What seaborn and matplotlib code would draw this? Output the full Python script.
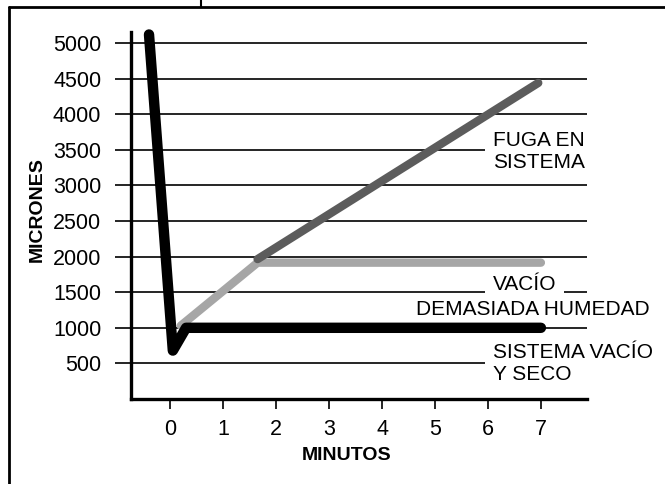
import matplotlib
matplotlib.use("Agg")
import matplotlib.pyplot as plt
from matplotlib.lines import Line2D
import seaborn as sns
import pandas as pd

# ---- data ----
seco_x = [-0.4, 0.05, 0.3, 7.0]
seco_y = [5120, 680, 1000, 1000]
humedad_x = [0.2, 1.65, 7.0]
humedad_y = [1030, 1915, 1915]
fuga_x = [1.65, 6.95]
fuga_y = [1965, 4440]
x_ticks = [0, 1, 2, 3, 4, 5, 6, 7]
y_ticks = [500, 1000, 1500, 2000, 2500, 3000, 3500, 4000, 4500, 5000]
x_label = "MINUTOS"
y_label = "MICRONES"
lbl_fuga = "FUGA EN\nSISTEMA"
lbl_vacio = "VACÍO"
lbl_humedad = "DEMASIADA HUMEDAD"
lbl_seco = "SISTEMA VACÍO\nY SECO"

sns.set_style("white")
plt.rcParams["font.family"] = ["Liberation Sans", "DejaVu Sans"]
plt.rcParams["text.color"] = "black"
plt.rcParams["xtick.color"] = "black"
plt.rcParams["ytick.color"] = "black"
plt.rcParams["axes.labelcolor"] = "black"

fig = plt.figure(figsize=(6.65, 4.84), dpi=100)
W, H = 665, 484
ax = fig.add_axes([131 / W, (H - 399) / H, (587 - 131) / W, (399 - 32) / H])

df_h = pd.DataFrame({"x": humedad_x, "y": humedad_y})
df_f = pd.DataFrame({"x": fuga_x, "y": fuga_y})
df_s = pd.DataFrame({"x": seco_x, "y": seco_y})

kw = dict(x="x", y="y", sort=False, estimator=None, ax=ax)
sns.lineplot(data=df_h, color="#a6a6a6", linewidth=6, zorder=3, **kw)
sns.lineplot(data=df_f, color="#5c5c5c", linewidth=6, zorder=3.2, **kw)
sns.lineplot(data=df_s, color="#000000", linewidth=7.5, zorder=3.4, **kw)
for ln in ax.get_lines():
    ln.set_solid_capstyle("round")
    ln.set_solid_joinstyle("round")
    ln.set_clip_on(False)

ax.set_xlim(-0.74, 7.87)
ax.set_ylim(0, 5155)
ax.set_xticks(x_ticks)
ax.set_yticks(y_ticks)
ax.set_xticklabels([str(v) for v in x_ticks])
ax.set_yticklabels([str(v) for v in y_ticks])

for v in y_ticks:
    ax.axhline(v, color="black", linewidth=1.2, zorder=0.5)

for s in ["top", "right"]:
    ax.spines[s].set_visible(False)
for s in ["left", "bottom"]:
    ax.spines[s].set_linewidth(2.4)
    ax.spines[s].set_color("black")
    ax.spines[s].set_zorder(4)

ax.tick_params(axis="y", direction="out", length=11.5, width=1.2, pad=10,
               labelsize=15.5, color="black", labelcolor="black", left=True)
ax.tick_params(axis="x", direction="out", length=7.5, width=1.2, pad=7,
               labelsize=15.5, color="black", labelcolor="black", bottom=True)

ax.set_xlabel(x_label, fontsize=14, fontweight="bold", color="black")
ax.set_ylabel(y_label, fontsize=14, fontweight="bold", color="black")
ax.xaxis.set_label_coords((347 - 131) / (587 - 131), -(455 - 399) / (399 - 32))
ax.xaxis.label.set_va("center")
ax.yaxis.set_label_coords(-(131 - 37) / (587 - 131), (399 - 210) / (399 - 32))
ax.yaxis.label.set_va("center")

box = dict(facecolor="white", edgecolor="none", pad=5.5)
tkw = dict(fontsize=15, va="baseline", ha="left", color="black", zorder=1)
ax.text(6.09, 3244, lbl_fuga, linespacing=1.2, bbox=box, **tkw)
ax.text(6.09, 1531, lbl_vacio, bbox=box, **tkw)
ax.text(4.64, 1180, lbl_humedad, clip_on=False, **tkw)
ax.text(6.09, 267, lbl_seco, linespacing=1.2, bbox=box, **tkw)

# frame of the figure
fig.add_artist(Line2D([9 / W, 9 / W], [0, 1 - 7 / H], color="black", linewidth=2, transform=fig.transFigure))
fig.add_artist(Line2D([9 / W, 1], [1 - 7 / H, 1 - 7 / H], color="black", linewidth=2, transform=fig.transFigure))
fig.add_artist(Line2D([201 / W, 201 / W], [1 - 7 / H, 1], color="black", linewidth=1.5, transform=fig.transFigure))

fig.savefig("out.png", dpi=100, facecolor="white")
